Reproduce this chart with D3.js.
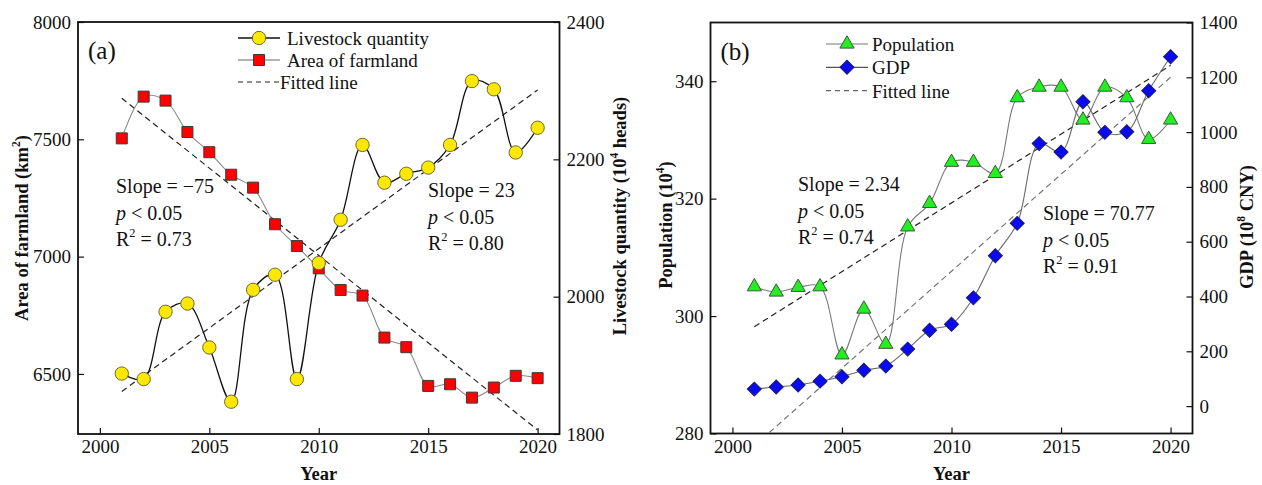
<!DOCTYPE html>
<html>
<head>
<meta charset="utf-8">
<script src="https://cdn.jsdelivr.net/npm/d3@7"></script>
<style>
  body { margin: 0; background: #fff; }
</style>
</head>
<body>
<div id="chart"></div>
<script>
const years = [2001, 2002, 2003, 2004, 2005, 2006, 2007, 2008, 2009, 2010,
               2011, 2012, 2013, 2014, 2015, 2016, 2017, 2018, 2019, 2020];

// panel (a)
const livestock = [1888, 1880, 1978, 1990, 1926, 1847, 2010, 2032, 1880, 2049,
                   2112, 2221, 2166, 2179, 2188, 2221, 2314, 2302, 2210, 2246];
const farmland = [7504, 7682, 7665, 7531, 7445, 7349, 7294, 7138, 7045, 6950,
                  6858, 6834, 6655, 6614, 6449, 6456, 6399, 6442, 6492, 6482];

// panel (b)
const population = [305.0, 304.1, 304.9, 305.0, 293.4, 301.2, 295.2, 315.2, 319.2, 326.2,
                    326.2, 324.3, 337.2, 339.0, 339.0, 333.4, 339.0, 337.2, 330.1, 333.4];
const gdp = [62, 70, 77, 91, 107, 131, 146, 208, 277, 299,
             395, 549, 667, 958, 927, 1111, 999, 1001, 1151, 1275];

// fitted lines (end points)
const fitYears = [2001, 2020];
const farmlandFit = [7675, 6261];
const livestockFit = [1862, 2301];
const populationFit = [298.2, 342.7];
const gdpFit = [-145, 1200];

const xTicks = [2000, 2005, 2010, 2015, 2020];
const farmlandTicks = [6500, 7000, 7500, 8000];
const livestockTicks = [1800, 2000, 2200, 2400];
const populationTicks = [280, 300, 320, 340];
const gdpTicks = [0, 200, 400, 600, 800, 1000, 1200, 1400];

const FONT = '"Liberation Serif", "Times New Roman", Times, serif';

const svg = d3.select('#chart').append('svg')
    .attr('width', 1262)
    .attr('height', 485)
    .attr('font-family', FONT);

const markerPath = {
    circle: d3.symbol().type(d3.symbolCircle).size(140)(),
    square: d3.symbol().type(d3.symbolSquare).size(121)(),
    triangle: d3.symbol().type(d3.symbolTriangle).size(88)(),
    diamond: d3.symbol().type(d3.symbolSquare).size(98)()
};
const markerRotate = { circle: 0, square: 0, triangle: 0, diamond: 45 };

function addText(g, x, y, parts, opts = {}) {
    const t = g.append('text')
        .attr('x', x).attr('y', y)
        .attr('font-size', opts.size || 19)
        .attr('font-weight', opts.bold ? 'bold' : null)
        .attr('text-anchor', opts.anchor || 'start')
        .attr('dominant-baseline', 'central')
        .attr('fill', '#111');
    if (opts.rotate) {
        t.attr('x', 0).attr('y', 0)
         .attr('transform', `translate(${x},${y}) rotate(${opts.rotate})`);
    }
    let raised = false;
    parts.forEach(p => {
        if (typeof p === 'string') p = { t: p };
        const s = t.append('tspan').text(p.t);
        if (p.i) s.style('font-style', 'italic');
        if (p.sup) {
            s.attr('dy', '-0.5em').style('font-size', '0.62em');
            raised = true;
        } else if (raised) {
            s.attr('dy', '0.31em');
            raised = false;
        }
    });
    return t;
}

function drawPanel(opt) {
    const { left, right, top, bottom } = opt;
    const g = svg.append('g');

    const x = d3.scaleLinear().domain([1999, 2021]).range([left, right]);
    const yL = d3.scaleLinear().domain(opt.leftDomain).range([bottom, top]);
    const yR = d3.scaleLinear().domain(opt.rightDomain).range([bottom, top]);
    const scales = { left: yL, right: yR };

    g.append('clipPath').attr('id', opt.id + '-clip')
        .append('rect')
        .attr('x', left).attr('y', top)
        .attr('width', right - left).attr('height', bottom - top);

    // axes, ticks point inward
    const fmt = d3.format('d');
    const xAxis = g.append('g')
        .attr('transform', `translate(0,${bottom})`)
        .call(d3.axisBottom(x).tickValues(xTicks).tickFormat(fmt)
            .tickSizeInner(-6).tickSizeOuter(0).tickPadding(6));
    const lAxis = g.append('g')
        .attr('transform', `translate(${left},0)`)
        .call(d3.axisLeft(yL).tickValues(opt.leftTicks).tickFormat(fmt)
            .tickSizeInner(-6).tickSizeOuter(0).tickPadding(7));
    const rAxis = g.append('g')
        .attr('transform', `translate(${right},0)`)
        .call(d3.axisRight(yR).tickValues(opt.rightTicks).tickFormat(fmt)
            .tickSizeInner(-6).tickSizeOuter(0).tickPadding(7));
    [xAxis, lAxis, rAxis].forEach(a => {
        a.attr('font-family', FONT).attr('font-size', 19);
        a.select('.domain').remove();
        a.selectAll('line').attr('stroke', '#111').attr('stroke-width', 1.2);
        a.selectAll('text').attr('fill', '#111');
    });

    g.append('rect')
        .attr('x', left).attr('y', top)
        .attr('width', right - left).attr('height', bottom - top)
        .attr('fill', 'none').attr('stroke', '#111').attr('stroke-width', 1.8);

    const plot = g.append('g').attr('clip-path', `url(#${opt.id}-clip)`);

    // fitted lines
    opt.fits.forEach(f => {
        const y = scales[f.axis];
        plot.append('path')
            .datum(fitYears.map((yr, i) => [yr, f.values[i]]))
            .attr('fill', 'none')
            .attr('stroke', f.color)
            .attr('stroke-width', 1.2)
            .attr('stroke-dasharray', '6,4')
            .attr('d', d3.line().x(d => x(d[0])).y(d => y(d[1])));
    });

    // smoothed series lines
    opt.series.forEach(s => {
        const y = scales[s.axis];
        plot.append('path')
            .datum(years.map((yr, i) => [yr, s.values[i]]))
            .attr('fill', 'none')
            .attr('stroke', s.line)
            .attr('stroke-width', s.lineWidth)
            .attr('d', d3.line().x(d => x(d[0])).y(d => y(d[1])).curve(d3.curveCatmullRom.alpha(0.5)));
    });
    // markers
    opt.series.forEach(s => {
        const y = scales[s.axis];
        g.append('g').selectAll('path')
            .data(years.map((yr, i) => [yr, s.values[i]]))
            .join('path')
            .attr('d', markerPath[s.marker])
            .attr('transform', d => `translate(${x(d[0])},${y(d[1])}) rotate(${markerRotate[s.marker]})`)
            .attr('fill', s.fill)
            .attr('stroke', s.stroke)
            .attr('stroke-width', 1);
    });

    // legend
    opt.legend.forEach((item, i) => {
        const ly = opt.legendY + i * opt.legendStep;
        const lx = opt.legendX;
        g.append('line')
            .attr('x1', lx).attr('x2', lx + 42)
            .attr('y1', ly).attr('y2', ly)
            .attr('stroke', item.line)
            .attr('stroke-width', item.dash ? 1.2 : item.lineWidth)
            .attr('stroke-dasharray', item.dash ? '5,4' : null);
        if (item.marker) {
            g.append('path')
                .attr('d', markerPath[item.marker])
                .attr('transform', `translate(${lx + 21},${ly}) rotate(${markerRotate[item.marker]})`)
                .attr('fill', item.fill)
                .attr('stroke', item.stroke);
        }
        addText(g, lx + item.textGap, ly, [item.label], { size: 19 });
    });

    addText(g, left + 10, top + 28, [opt.label], { size: 25 });

    // regression notes
    opt.notes.forEach(n => {
        addText(g, n.x, n.y, ['Slope = ' + n.slope], { size: 20 });
        addText(g, n.x, n.y + 26.5, [{ t: 'p', i: true }, ' < 0.05'], { size: 20 });
        addText(g, n.x, n.y + 53, ['R', { t: '2', sup: true }, ' = ' + n.r2], { size: 20 });
    });

    // axis titles
    addText(g, (left + right) / 2, 474, ['Year'], { size: 18.5, bold: true, anchor: 'middle' });
    addText(g, opt.leftTitleX, opt.leftTitleY, opt.leftTitle,
        { size: 18.5, bold: true, anchor: 'middle', rotate: -90 });
    addText(g, opt.rightTitleX, opt.rightTitleY, opt.rightTitle,
        { size: 18.5, bold: true, anchor: 'middle', rotate: -90 });
}

drawPanel({
    id: 'a', left: 78, right: 559.5, top: 22, bottom: 434,
    leftDomain: [6244, 8000], rightDomain: [1800, 2400],
    leftTicks: farmlandTicks, rightTicks: livestockTicks,
    label: '(a)',
    fits: [
        { values: farmlandFit, axis: 'left', color: '#222' },
        { values: livestockFit, axis: 'right', color: '#222' }
    ],
    series: [
        { values: farmland, axis: 'left', line: '#8a8a8a', lineWidth: 1.1,
          marker: 'square', fill: '#ff0000', stroke: '#3a3a3a' },
        { values: livestock, axis: 'right', line: '#111', lineWidth: 1.3,
          marker: 'circle', fill: '#ffe800', stroke: '#6b6b3a' }
    ],
    legendX: 238, legendY: 38, legendStep: 22,
    legend: [
        { label: 'Livestock quantity', line: '#111', lineWidth: 1.3, marker: 'circle', fill: '#ffe800', stroke: '#6b6b3a', textGap: 49 },
        { label: 'Area of farmland', line: '#9a9a9a', lineWidth: 1.6, marker: 'square', fill: '#ff0000', stroke: '#3a3a3a', textGap: 49 },
        { label: 'Fitted line', line: '#222', dash: true, textGap: 42 }
    ],
    notes: [
        { x: 116, y: 186, slope: '\u221275', r2: '0.73' },
        { x: 428, y: 190, slope: '23', r2: '0.80' }
    ],
    leftTitle: ['Area of farmland (km', { t: '2', sup: true }, ')'],
    leftTitleX: 22, leftTitleY: 228,
    rightTitle: ['Livestock quantity (10', { t: '4', sup: true }, ' heads)'],
    rightTitleX: 620, rightTitleY: 216
});

drawPanel({
    id: 'b', left: 710.5, right: 1192.5, top: 22.5, bottom: 433.5,
    leftDomain: [280, 350], rightDomain: [-100, 1400],
    leftTicks: populationTicks, rightTicks: gdpTicks,
    label: '(b)',
    fits: [
        { values: populationFit, axis: 'left', color: '#222' },
        { values: gdpFit, axis: 'right', color: '#777' }
    ],
    series: [
        { values: population, axis: 'left', line: '#7a7a7a', lineWidth: 1.1,
          marker: 'triangle', fill: '#22ee22', stroke: '#3a5a3a' },
        { values: gdp, axis: 'right', line: '#6a6a6a', lineWidth: 1.1,
          marker: 'diamond', fill: '#0a0aee', stroke: '#1a1a6a' }
    ],
    legendX: 826, legendY: 44, legendStep: 23.3,
    legend: [
        { label: 'Population', line: '#777', lineWidth: 1.2, marker: 'triangle', fill: '#22ee22', stroke: '#3a5a3a', textGap: 46 },
        { label: 'GDP', line: '#555', lineWidth: 1.2, marker: 'diamond', fill: '#0a0aee', stroke: '#1a1a6a', textGap: 46 },
        { label: 'Fitted line', line: '#666', dash: true, textGap: 46 }
    ],
    notes: [
        { x: 798, y: 184, slope: '2.34', r2: '0.74' },
        { x: 1043, y: 213, slope: '70.77', r2: '0.91' }
    ],
    leftTitle: ['Population (10', { t: '4', sup: true }, ')'],
    leftTitleX: 666, leftTitleY: 225,
    rightTitle: ['GDP (10', { t: '8', sup: true }, ' CNY)'],
    rightTitleX: 1247, rightTitleY: 227
});

svg.selectAll('text').style('font-family', FONT);
</script>
</body>
</html>
